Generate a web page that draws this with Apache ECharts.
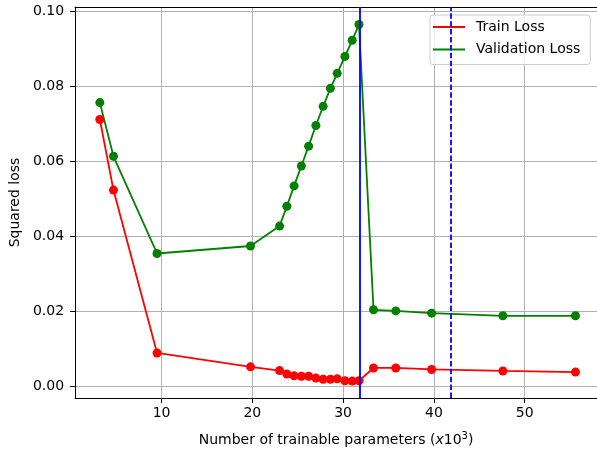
<!DOCTYPE html>
<html>
<head>
<meta charset="utf-8">
<script src="https://cdn.jsdelivr.net/npm/echarts@6/dist/echarts.min.js"></script>
<style>html,body{margin:0;padding:0;background:#fff}#c{width:597px;height:452px}</style>
</head>
<body>
<div id="c"></div>
<script>
const params = [3.2, 4.7, 9.5, 19.8, 23.0, 23.8, 24.6, 25.4, 26.2, 27.0, 27.8, 28.6, 29.35, 30.2, 31.0, 31.75, 33.35, 35.8, 39.75, 47.6, 55.6];
const trainLoss = [0.0712, 0.0524, 0.0090, 0.0053, 0.0043, 0.0034, 0.0029, 0.0028, 0.0028, 0.0023, 0.0020, 0.0020, 0.0021, 0.0016, 0.0015, 0.0016, 0.0050, 0.0050, 0.0046, 0.0042, 0.0039];
const valLoss = [0.0757, 0.0614, 0.0355, 0.0375, 0.0428, 0.0481, 0.0535, 0.0588, 0.0641, 0.0696, 0.0747, 0.0795, 0.0835, 0.0880, 0.0923, 0.0965, 0.0205, 0.0202, 0.0196, 0.0189, 0.0189];
const xTicks = [10, 20, 30, 40, 50];
const yTicks = [0.00, 0.02, 0.04, 0.06, 0.08, 0.10];
const solidLineX = 31.8;
const dashedLineX = 41.9;

const font = 'DejaVu Sans';
const chart = echarts.init(document.getElementById('c'), null, {renderer: 'canvas'});
const gridColor = '#b0b0b0';
chart.setOption({
  animation: false,
  grid: {left: 73, right: 0, top: 7, bottom: 53, show: false},
  legend: {
    orient: 'vertical', left: 430, top: 15,
    padding: [5, 10, 8, 3],
    itemWidth: 32, itemHeight: 2, itemGap: 8.5,
    symbolKeepAspect: false,
    backgroundColor: 'rgba(255,255,255,0.8)',
    borderColor: '#cccccc', borderWidth: 1, borderRadius: 3,
    textStyle: {fontFamily: font, fontSize: 14, color: '#000', padding: [0,0,0,6], lineHeight: 14},
    data: [{name: 'Train Loss', icon: 'rect'}, {name: 'Validation Loss', icon: 'rect'}]
  },
  xAxis: [{
    type: 'value', min: 0.47, max: 57.97, position: 'bottom',
    name: '{n|Number of trainable parameters (}{i|x}{n|10}{s|3}{n|)}',
    nameLocation: 'middle', nameGap: 33,
    nameTextStyle: {
      rich: {
        n: {fontFamily: font, fontSize: 14, color: '#000'},
        i: {fontFamily: font, fontSize: 14, fontStyle: 'italic', color: '#000'},
        s: {fontFamily: font, fontSize: 10, color: '#000', verticalAlign: 'top', padding: [0,0,8,0]}
      }
    },
    axisLine: {show: true, onZero: false, lineStyle: {color: '#000', width: 1}},
    axisTick: {show: true, length: 5, customValues: xTicks, lineStyle: {color: '#000'}},
    axisLabel: {customValues: xTicks, fontFamily: font, fontSize: 14, color: '#000', margin: 8},
    splitLine: {show: true, lineStyle: {color: gridColor, width: 1}}
  }, {
    type: 'value', min: 0.47, max: 57.97, position: 'top',
    axisLine: {show: true, onZero: false, lineStyle: {color: '#000', width: 1}},
    axisTick: {show: false}, axisLabel: {show: false}, splitLine: {show: false}
  }],
  yAxis: {
    type: 'value', min: -0.0030, max: 0.10117,
    name: 'Squared loss', nameLocation: 'middle', nameGap: 52, nameRotate: 90,
    nameTextStyle: {fontFamily: font, fontSize: 14, color: '#000'},
    axisLine: {show: true, onZero: false, lineStyle: {color: '#000', width: 1}},
    axisTick: {show: true, length: 5, customValues: yTicks, lineStyle: {color: '#000'}},
    axisLabel: {customValues: yTicks, fontFamily: font, fontSize: 14, color: '#000', margin: 11,
      formatter: v => v.toFixed(2)},
    splitLine: {show: true, lineStyle: {color: gridColor, width: 1}}
  },
  series: [{
    name: 'Train Loss', type: 'line', xAxisIndex: 0,
    data: params.map((x, i) => [x, trainLoss[i]]),
    symbol: 'circle', symbolSize: 9, showSymbol: true,
    itemStyle: {color: '#ff0000'}, lineStyle: {color: '#ff0000', width: 1.8}
  }, {
    name: 'Validation Loss', type: 'line', xAxisIndex: 0,
    data: params.map((x, i) => [x, valLoss[i]]),
    symbol: 'circle', symbolSize: 9, showSymbol: true,
    itemStyle: {color: '#008000'}, lineStyle: {color: '#008000', width: 1.8},
    markLine: {
      silent: true, symbol: 'none', label: {show: false},
      data: [
        {xAxis: solidLineX, lineStyle: {color: '#0000ff', width: 1.8, type: 'solid'}},
        {xAxis: dashedLineX, lineStyle: {color: '#0000ff', width: 1.8, type: [5.5, 2.4]}}
      ]
    }
  }]
});
</script>
</body>
</html>
